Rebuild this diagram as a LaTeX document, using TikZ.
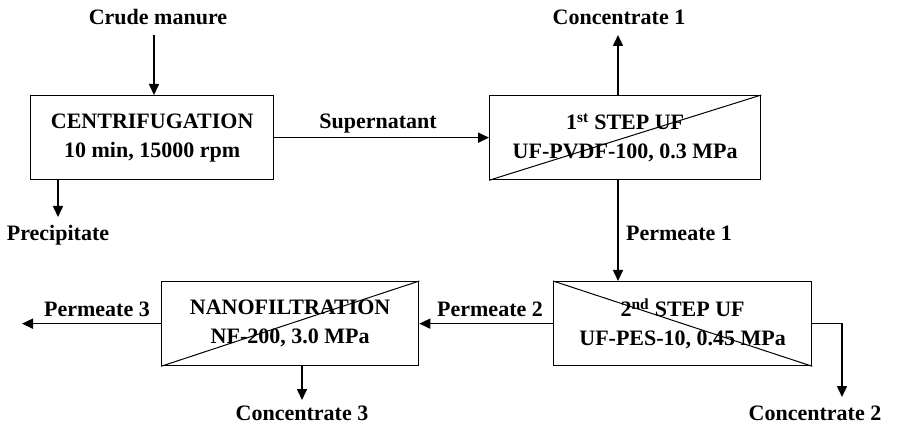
\documentclass[tikz,border=0pt]{standalone}
\usepackage{fontspec}
\setmainfont{Liberation Serif}
\usetikzlibrary{arrows.meta,calc}
\begin{document}
\begin{tikzpicture}[x=1pt,y=-1pt,
  every node/.style={font=\fontsize{22}{29}\selectfont\bfseries},
  unit/.style={draw,line width=1.3pt,minimum height=84pt,inner sep=0pt,align=center,anchor=north west},
  label/.style={inner sep=0pt},
  flow/.style={line width=1.6pt,-{Triangle[length=11pt,width=10pt]}},
  cross/.style={line width=1pt}]
\useasboundingbox (0,0) rectangle (899,427);

% process units
\node[unit,minimum width=243pt] (centr) at (30,95) {CENTRIFUGATION\\10 min, 15000 rpm};
\node[unit,minimum width=271pt] (uf1) at (489,95) {1\textsuperscript{st} STEP UF\\UF-PVDF-100, 0.3 MPa};
\node[unit,minimum width=258pt] (uf2) at (553,281) {2\textsuperscript{nd} STEP UF\\UF-PES-10, 0.45 MPa};
\node[unit,minimum width=257pt] (nf) at (161,281) {NANOFILTRATION\\NF-200, 3.0 MPa};

% membrane diagonals
\draw[cross] (uf1.south west) -- (uf1.north east);
\draw[cross] (uf2.north west) -- (uf2.south east);
\draw[cross] (nf.south west) -- (nf.north east);

% stream names
\node[label] (crude) at (158,17) {Crude manure};
\node[label] (precip) at (58,235) {Precipitate};
\node[label] (super) at (378,124) {Supernatant};
\node[label] (conc1) at (619,17) {Concentrate 1};
\node[label] (perm1) at (679,233) {Permeate 1};
\node[label] (perm2) at (490,309) {Permeate 2};
\node[label] (perm3) at (97,309) {Permeate 3};
\node[label] (conc3) at (302,413) {Concentrate 3};
\node[label] (conc2) at (815,413) {Concentrate 2};

% free ends of the streams
\coordinate (feed) at (154,35);
\coordinate (precipend) at (58,217);
\coordinate (conc1end) at (618,35);
\coordinate (out3) at (22,323);
\coordinate (conc3end) at (302,400);
\coordinate (conc2end) at (842,397);

% streams
\draw[flow] (feed) -- (feed |- centr.north);
\draw[flow] (precipend |- centr.south) -- (precipend);
\draw[flow] (centr.east) -- (uf1.west);
\draw[flow] (conc1end |- uf1.north) -- (conc1end);
\draw[flow] (conc1end |- uf1.south) -- (conc1end |- uf2.north);
\draw[flow] (uf2.west) -- (nf.east);
\draw[flow] (nf.west) -- (out3 |- nf.west);
\draw[flow] (conc3end |- nf.south) -- (conc3end);
\draw[flow] (uf2.east) -| (conc2end);
\end{tikzpicture}
\end{document}
